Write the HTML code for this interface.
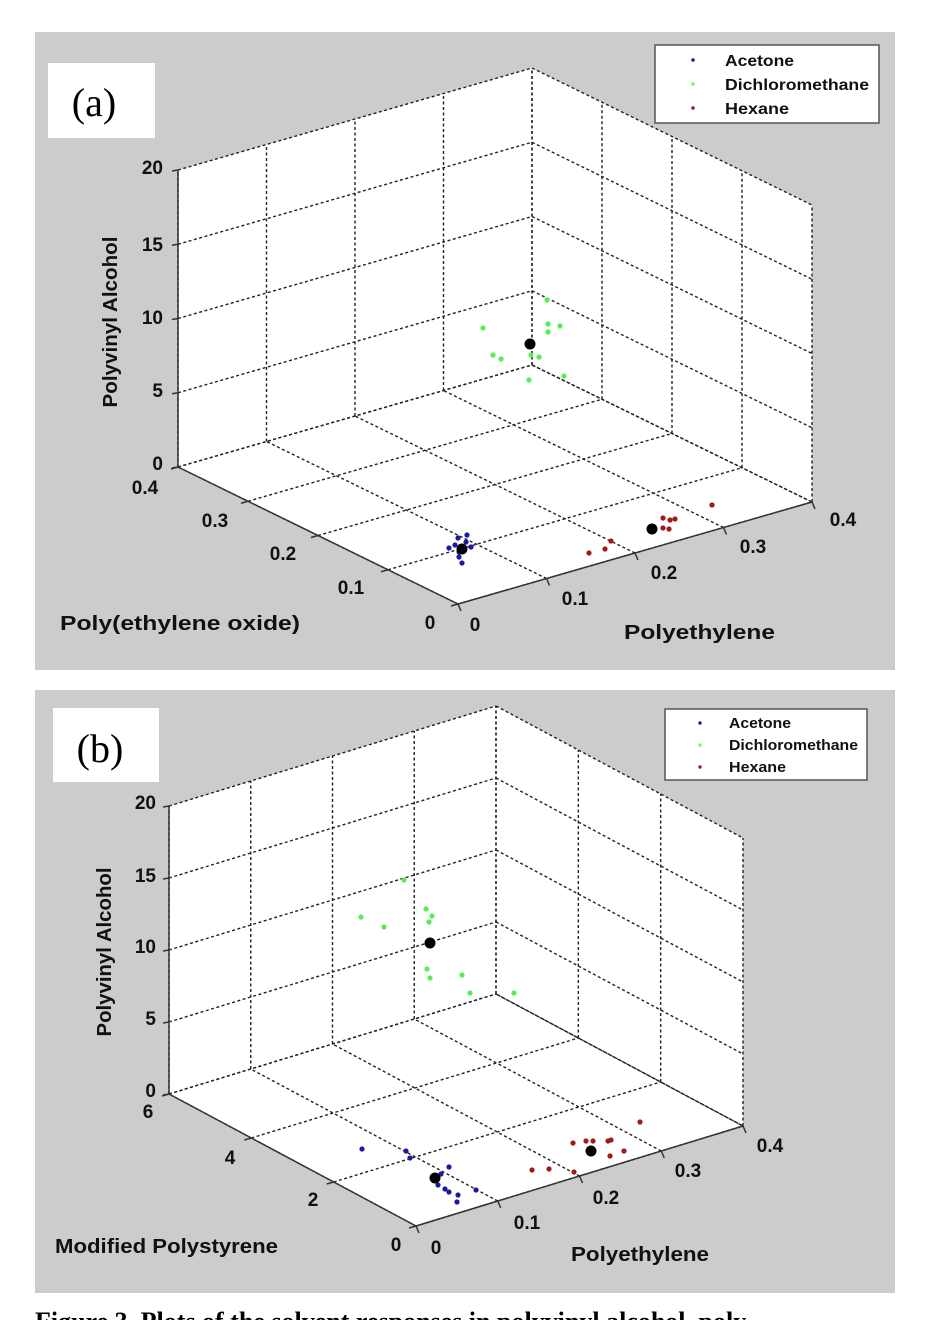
<!DOCTYPE html>
<html><head><meta charset="utf-8">
<style>
html,body{margin:0;padding:0;background:#fff;}
body{width:934px;height:1320px;overflow:hidden;position:relative;font-family:"Liberation Sans",Arial,sans-serif;}
svg{position:absolute;left:0;top:0;}
</style></head>
<body>
<svg id="s" width="934" height="1320" xmlns="http://www.w3.org/2000/svg">
<rect x="35" y="32" width="860" height="638" fill="#cccccc"/>
<rect x="35" y="690" width="860" height="603" fill="#cccccc"/>
<g id="g"></g>
<!-- panel a labels -->
<rect x="48" y="63" width="107" height="75" fill="#fff"/>
<text x="94" y="116" font-family="Liberation Serif,serif" font-size="40" text-anchor="middle">(a)</text>
<rect x="655" y="45" width="224" height="78" fill="#fff" stroke="#555" stroke-width="1.5"/>
<g font-family="Liberation Sans,Arial,sans-serif" font-weight="bold" font-size="16" fill="#111" lengthAdjust="spacingAndGlyphs">
<circle cx="693" cy="60" r="1.8" fill="#1a1aa0"/><text x="725" y="66" textLength="69" lengthAdjust="spacingAndGlyphs">Acetone</text>
<circle cx="693" cy="84" r="1.8" fill="#66ff66"/><text x="725" y="90" textLength="144" lengthAdjust="spacingAndGlyphs">Dichloromethane</text>
<circle cx="693" cy="108" r="1.8" fill="#a01a1a"/><text x="725" y="114" textLength="64" lengthAdjust="spacingAndGlyphs">Hexane</text>
</g>
<g font-weight="bold" font-size="19" fill="#111">
<text x="163" y="174" text-anchor="end">20</text>
<text x="163" y="251" text-anchor="end">15</text>
<text x="163" y="324" text-anchor="end">10</text>
<text x="163" y="397" text-anchor="end">5</text>
<text x="163" y="470" text-anchor="end">0</text>
<text x="145" y="494" text-anchor="middle">0.4</text>
<text x="215" y="527" text-anchor="middle">0.3</text>
<text x="283" y="560" text-anchor="middle">0.2</text>
<text x="351" y="594" text-anchor="middle">0.1</text>
<text x="430" y="629" text-anchor="middle">0</text>
<text x="475" y="631" text-anchor="middle">0</text>
<text x="575" y="605" text-anchor="middle">0.1</text>
<text x="664" y="579" text-anchor="middle">0.2</text>
<text x="753" y="553" text-anchor="middle">0.3</text>
<text x="843" y="526" text-anchor="middle">0.4</text>
<text x="60" y="630" font-size="20" textLength="240" lengthAdjust="spacingAndGlyphs">Poly(ethylene oxide)</text>
<text x="624" y="639" font-size="20" textLength="151" lengthAdjust="spacingAndGlyphs">Polyethylene</text>
<text transform="translate(117,322) rotate(-90)" text-anchor="middle" font-size="20" textLength="171" lengthAdjust="spacingAndGlyphs">Polyvinyl Alcohol</text>
</g>
<!-- panel b labels -->
<rect x="53" y="708" width="106" height="74" fill="#fff"/>
<text x="100" y="762" font-family="Liberation Serif,serif" font-size="40" text-anchor="middle">(b)</text>
<rect x="665" y="709" width="202" height="71" fill="#fff" stroke="#555" stroke-width="1.5"/>
<g font-weight="bold" font-size="15" fill="#111">
<circle cx="700" cy="723" r="1.7" fill="#1a1aa0"/><text x="729" y="728" textLength="62" lengthAdjust="spacingAndGlyphs">Acetone</text>
<circle cx="700" cy="745" r="1.7" fill="#66ff66"/><text x="729" y="750" textLength="129" lengthAdjust="spacingAndGlyphs">Dichloromethane</text>
<circle cx="700" cy="767" r="1.7" fill="#a01a1a"/><text x="729" y="772" textLength="57" lengthAdjust="spacingAndGlyphs">Hexane</text>
</g>
<g font-weight="bold" font-size="19" fill="#111">
<text x="156" y="809" text-anchor="end">20</text>
<text x="156" y="882" text-anchor="end">15</text>
<text x="156" y="953" text-anchor="end">10</text>
<text x="156" y="1025" text-anchor="end">5</text>
<text x="156" y="1097" text-anchor="end">0</text>
<text x="148" y="1118" text-anchor="middle">6</text>
<text x="230" y="1164" text-anchor="middle">4</text>
<text x="313" y="1206" text-anchor="middle">2</text>
<text x="396" y="1251" text-anchor="middle">0</text>
<text x="436" y="1254" text-anchor="middle">0</text>
<text x="527" y="1229" text-anchor="middle">0.1</text>
<text x="606" y="1204" text-anchor="middle">0.2</text>
<text x="688" y="1177" text-anchor="middle">0.3</text>
<text x="770" y="1152" text-anchor="middle">0.4</text>
<text x="55" y="1253" font-size="20" textLength="223" lengthAdjust="spacingAndGlyphs">Modified Polystyrene</text>
<text x="571" y="1261" font-size="20" textLength="138" lengthAdjust="spacingAndGlyphs">Polyethylene</text>
<text transform="translate(111,952) rotate(-90)" text-anchor="middle" font-size="20" textLength="169" lengthAdjust="spacingAndGlyphs">Polyvinyl Alcohol</text>
</g>
<text x="35" y="1330" font-family="Liberation Serif,serif" font-weight="bold" font-size="26" fill="#000">Figure 3. Plots of the solvent responses in polyvinyl alcohol, poly</text>
</svg>
<script>
(function(){
var NS="http://www.w3.org/2000/svg",g=document.getElementById('g');
function el(t,a){var e=document.createElementNS(NS,t);for(var k in a)e.setAttribute(k,a[k]);g.appendChild(e);return e;}
function panel(F,R,L,H,nv){
 function P(u,v,w){return [F[0]+u*(R[0]-F[0])+v*(L[0]-F[0]), F[1]+u*(R[1]-F[1])+v*(L[1]-F[1])-w*H];}
 function poly(pts){el('polygon',{points:pts.map(function(p){return p.join(',')}).join(' '),fill:'#fff'});}
 poly([P(0,1,0),P(1,1,0),P(1,1,1),P(0,1,1)]);
 poly([P(1,1,0),P(1,0,0),P(1,0,1),P(1,1,1)]);
 poly([P(0,0,0),P(1,0,0),P(1,1,0),P(0,1,0)]);
 function dl(a,b){el('line',{x1:a[0],y1:a[1],x2:b[0],y2:b[1],stroke:'#222','stroke-width':1.4,'stroke-dasharray':'3,2.5'});}
 function sl(a,b){el('line',{x1:a[0],y1:a[1],x2:b[0],y2:b[1],stroke:'#333','stroke-width':1.5});}
 var i,t;
 for(i=0;i<=4;i++){t=i/4;
  dl(P(t,1,0),P(t,1,1)); dl(P(0,1,t),P(1,1,t)); dl(P(1,1,t),P(1,0,t));
  dl(P(t,0,0),P(t,1,0));
 }
 for(i=0;i<=nv;i++){t=i/nv; dl(P(1,t,0),P(1,t,1)); dl(P(0,t,0),P(1,t,0));}
 sl(P(0,0,0),P(1,0,0)); sl(P(0,0,0),P(0,1,0)); sl(P(0,1,0),P(0,1,1));
 for(i=0;i<=4;i++){t=i/4;var a=P(t,0,0);sl(a,[a[0]+3,a[1]+7]);var b=P(0,1,t);sl(b,[b[0]-6,b[1]+1]);}
 for(i=0;i<=nv;i++){t=i/nv;var c=P(0,t,0);sl(c,[c[0]-7,c[1]+2]);}
}
function pts(list,col,r){list.forEach(function(p){el('circle',{cx:p[0],cy:p[1],r:r,fill:col});});}
panel([458,604],[812,502],[178,467],297,4);
pts([[547,300],[483,328],[548,324],[560,326],[548,332],[493,355],[501,359],[531,355],[539,357],[529,380],[564,376]],'#55ee55',2.6);
pts([[458,538],[467,535],[449,548],[471,547],[459,557],[462,563],[455,545],[466,542],[459,552]],'#1a1aa0',2.6);
pts([[712,505],[663,518],[670,520],[675,519],[663,528],[669,529],[611,541],[605,549],[589,553]],'#a01a1a',2.6);
pts([[530,344],[462,549],[652,529]],'#000',5.5);
panel([416,1226],[743,1126],[169,1094],288,3);
pts([[404,880],[361,917],[384,927],[426,909],[432,916],[429,922],[427,969],[430,978],[462,975],[470,993],[514,993]],'#55ee55',2.6);
pts([[362,1149],[406,1151],[410,1158],[449,1167],[441,1174],[438,1185],[445,1189],[449,1192],[458,1195],[457,1202],[476,1190]],'#1a1aa0',2.6);
pts([[640,1122],[573,1143],[586,1141],[593,1141],[608,1141],[611,1140],[610,1156],[624,1151],[532,1170],[549,1169],[574,1172]],'#a01a1a',2.6);
pts([[430,943],[435,1178],[591,1151]],'#000',5.5);
})();
</script>
</body></html>
